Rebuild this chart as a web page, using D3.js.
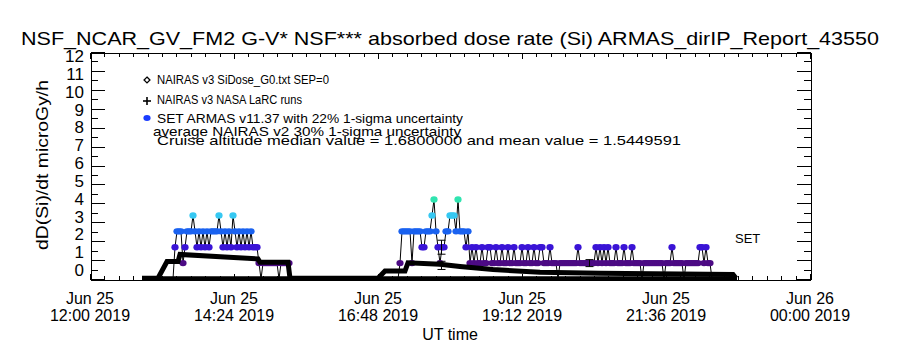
<!DOCTYPE html>
<html lang="en">
<head>
<meta charset="UTF-8">
<title>ARMAS absorbed dose rate</title>
<script src="https://d3js.org/d3.v7.min.js"></script>
<style>
body { margin: 0; background: #fff; }
text { font-family: "Liberation Sans", Arial, sans-serif; fill: #000; }
.axis path, .axis line { stroke: #000; fill: none; shape-rendering: crispEdges; }
</style>
</head>
<body>
<div class="container"></div>
<script>
// all times in minutes after Jun 25 2019 12:00 UT
var titleText = "NSF_NCAR_GV_FM2 G-V* NSF*** absorbed dose rate (Si) ARMAS_dirIP_Report_43550";
var yTicks = [0,1,2,3,4,5,6,7,8,9,10,11,12];
var xTickMin = [0, 144, 288, 432, 576, 720];
var xTickDay = ["Jun 25","Jun 25","Jun 25","Jun 25","Jun 25","Jun 26"];
var xTickTime = ["12:00 2019","14:24 2019","16:48 2019","19:12 2019","21:36 2019","00:00 2019"];
var legendLines = [
  "NAIRAS v3 SiDose_G0.txt SEP=0",
  "NAIRAS v3 NASA LaRC runs",
  "SET ARMAS v11.37 with 22% 1-sigma uncertainty",
  "average NAIRAS v2 30% 1-sigma uncertainty",
  "Cruise altitude median value = 1.6800000 and mean value = 1.5449591"
];

// NAIRAS v3 SiDose model (thick black curve)
var nairasMin  = [52, 68, 77, 88, 90, 168, 170, 198, 200, 288, 295, 315, 318, 350, 370, 403, 450, 510, 643, 646];
var nairasDose = [0.04, 0.04, 0.92, 0.92, 1.3, 1.06, 0.88, 0.88, 0.04, 0.04, 0.42, 0.42, 0.86, 0.78, 0.66, 0.5, 0.36, 0.3, 0.24, 0.04];
// NAIRAS v3 LaRC runs (flat near zero)
var larcMin  = [52, 647];
var larcDose = [0.04, 0.04];

// ARMAS dose rate, 2 minute records
var armasStep = 2;
var flight1Start = 83;
var flight1Dose = [
  0, 1.68, 2.52, 2.52, 2.52, 0.84, 1.68, 2.52, 2.52, 2.52,
  3.36, 2.52, 1.68, 2.52, 1.68, 2.52, 1.68, 2.52, 1.68, 2.52,
  2.52, 2.52, 2.52, 3.36, 2.52, 1.68, 2.52, 1.68, 2.52, 1.68,
  3.36, 2.52, 1.68, 2.52, 1.68, 2.52, 1.68, 2.52, 1.68, 2.52,
  1.68, 1.68, 1.68, 0.84, 0, 0.84, 0.84, 0.84, 0.84, 0.84,
  0.84, 0.84, 0.84, 0, 0.84, 0.84, 0.84, 0.84, 0.84, 0
];
var flight2Start = 308;
var flight2Dose = [
  0, 0.84, 2.52, 2.52, 2.52, 2.52, 2.52, 0.84, 2.52, 2.52,
  2.52, 2.52, 1.68, 1.68, 2.52, 2.52, 2.52, 3.36, 4.2, 2.52,
  1.68, 0.84, 1.68, 1.68, 2.52, 2.52, 3.36, 3.36, 3.36, 2.52,
  4.2, 2.52, 2.52, 2.52, 1.68, 2.52, 0.84, 1.68, 0.84, 1.68,
  0.84, 0.84, 1.68, 0.84, 0.84, 1.68, 1.68, 0.84, 0.84, 1.68,
  0.84, 0.84, 1.68, 0.84, 0.84, 1.68, 0.84, 0.84, 1.68, 0.84,
  0.84, 0.84, 1.68, 0.84, 0.84, 1.68, 0.84, 0.84, 1.68, 0.84,
  0.84, 1.68, 1.68, 0.84, 0.84, 0.84, 1.68, 0.84, 0.84, 0.84,
  0, 0.84, 0.84, 0.84, 0.84, 0.84, 0.84, 0.84, 0.84, 0.84,
  1.68, 0.84, 0.84, 0.84, 0.84, 0.84, 0.84, 0.84, 0.84, 1.68,
  0.84, 1.68, 0.84, 1.68, 0.84, 1.68, 0.84, 0.84, 0.84, 1.68,
  0.84, 0.84, 0.84, 1.68, 0.84, 0.84, 0.84, 1.68, 0.84, 0.84,
  0.84, 0.84, 0, 0.84, 0.84, 0.84, 0.84, 0.84, 0.84, 0.84,
  0.84, 0.84, 0.84, 0, 0.84, 0.84, 0.84, 1.68, 0.84, 0.84,
  0.84, 0.84, 0.84, 0, 0.84, 0.84, 0.84, 0.84, 0.84, 0.84,
  0.84, 1.68, 1.68, 0.84, 1.68, 0.84, 0.84, 0
];
// error bars: [minute, value, fractional 1-sigma]
var errMin  = [351, 351, 499];
var errVal  = [1.68, 0.72, 0.84];
var errFrac = [0.22, 0.30, 0.22];

var doseLevels = [0.84, 1.68, 2.52, 3.36, 4.2];
var levelColors = ["#4c0a84", "#3a14d6", "#1a62f0", "#36c8f2", "#30e4b0"];

var W = 900, H = 350;
var t0 = Date.UTC(2019, 5, 25, 12, 0);
function toDate(m) { return new Date(t0 + m * 60000); }

var x = d3.scaleUtc().domain([toDate(0), toDate(720)]).range([90, 810]);
var y = d3.scaleLinear().domain([0, 12]).range([279, 52]);
var yLab = d3.scaleLinear().domain([0, 12]).range([270, 56]);
var color = d3.scaleOrdinal().domain(doseLevels).range(levelColors);

var svg = d3.select(".container").append("svg")
  .attr("width", W).attr("height", H);

svg.append("text").attr("x", 450).attr("y", 45)
  .attr("text-anchor", "middle").style("font-size", "19px")
  .attr("textLength", 858).attr("lengthAdjust", "spacingAndGlyphs")
  .text(titleText);

// axes: major + minor ticks on all four sides
var major = xTickMin.map(toDate);
var minor = d3.range(0, 721, 14.4).map(toDate);
var halfs = d3.range(0, 12.01, 0.5);

function addAxis(gen, tr) {
  svg.append("g").attr("class", "axis").attr("transform", tr).call(gen);
}
addAxis(d3.axisBottom(x).tickValues(minor).tickSize(-4).tickSizeOuter(0).tickFormat(""), "translate(0,279.5)");
addAxis(d3.axisBottom(x).tickValues(major).tickSize(-6).tickSizeOuter(0).tickFormat(""), "translate(0,279.5)");
addAxis(d3.axisTop(x).tickValues(minor).tickSize(-4).tickSizeOuter(0).tickFormat(""), "translate(0,52.5)");
addAxis(d3.axisTop(x).tickValues(major).tickSize(-6).tickSizeOuter(0).tickFormat(""), "translate(0,52.5)");
addAxis(d3.axisLeft(y).tickValues(halfs).tickSize(-7).tickSizeOuter(0).tickFormat(""), "translate(90.5,0)");
addAxis(d3.axisLeft(y).tickValues(yTicks).tickSize(-14).tickSizeOuter(0).tickFormat(""), "translate(90.5,0)");
addAxis(d3.axisRight(y).tickValues(halfs).tickSize(-7).tickSizeOuter(0).tickFormat(""), "translate(810.5,0)");
addAxis(d3.axisRight(y).tickValues(yTicks).tickSize(-14).tickSizeOuter(0).tickFormat(""), "translate(810.5,0)");

svg.append("g").selectAll("text").data(yTicks).enter().append("text")
  .attr("x", 84).attr("y", function(d) { return yLab(d) + 6; })
  .attr("text-anchor", "end").style("font-size", "17px")
  .text(function(d) { return d; });

var xl = svg.append("g").selectAll("text").data(xTickMin).enter().append("text")
  .attr("text-anchor", "middle").style("font-size", "16px");
xl.append("tspan").attr("x", function(d) { return x(toDate(d)); }).attr("y", 304)
  .text(function(d, i) { return xTickDay[i]; });
xl.append("tspan").attr("x", function(d) { return x(toDate(d)); }).attr("y", 321)
  .text(function(d, i) { return xTickTime[i]; });

svg.append("text").attr("x", 450).attr("y", 340).attr("text-anchor", "middle")
  .style("font-size", "16px").text("UT time");
svg.append("text").attr("transform", "translate(48,165) rotate(-90)")
  .attr("text-anchor", "middle").style("font-size", "17px")
  .attr("textLength", 170).attr("lengthAdjust", "spacingAndGlyphs")
  .text("dD(Si)/dt microGy/h");

// legend
var legY = [84, 104, 123, 136, 145];
var legX = [157, 157, 157, 153, 157];
var legW = [172, 145, 306, 308, 524];
svg.append("g").selectAll("text").data(legendLines).enter().append("text")
  .attr("x", function(d, i) { return legX[i]; })
  .attr("y", function(d, i) { return legY[i]; })
  .attr("textLength", function(d, i) { return legW[i]; })
  .attr("lengthAdjust", "spacingAndGlyphs")
  .style("font-size", "13px").text(function(d) { return d; });
svg.append("path").attr("d", d3.symbol(d3.symbolDiamond2, 22)())
  .attr("transform", "translate(147,80)").attr("fill", "none").attr("stroke", "#000").attr("stroke-width", 1.3);
var plus = svg.append("g").attr("stroke", "#000").attr("stroke-width", 1.6);
plus.append("line").attr("x1", 143).attr("x2", 151).attr("y1", 101).attr("y2", 101);
plus.append("line").attr("x1", 147).attr("x2", 147).attr("y1", 97).attr("y2", 105);
svg.append("ellipse").attr("cx", 147).attr("cy", 118).attr("rx", 3.6).attr("ry", 3)
  .attr("fill", "#1a3cff");
svg.append("text").attr("x", 735).attr("y", 243).style("font-size", "13px").text("SET");

// ARMAS series
function armasPoints(start, vals) {
  return vals.map(function(v, i) { return { m: start + i * armasStep, v: v }; });
}
var flights = [armasPoints(flight1Start, flight1Dose), armasPoints(flight2Start, flight2Dose)];
var line = d3.line()
  .x(function(d) { return x(toDate(d.m)); })
  .y(function(d) { return y(d.v); });

flights.forEach(function(pts) {
  svg.append("path").attr("d", line(pts))
    .attr("fill", "none").attr("stroke", "#000").attr("stroke-width", 1);
});
flights.forEach(function(pts) {
  svg.append("g").selectAll("ellipse").data(pts.filter(function(d) { return d.v > 0; }))
    .enter().append("ellipse")
    .attr("cx", function(d) { return x(toDate(d.m)); })
    .attr("cy", function(d) { return y(d.v); })
    .attr("rx", 3.6).attr("ry", 3.2)
    .attr("fill", function(d) { return color(d.v); });
});

// error bars
var eb = svg.append("g").attr("stroke", "#000").attr("stroke-width", 1);
errMin.forEach(function(m, i) {
  var cx = Math.round(x(toDate(m))) + 0.5;
  var lo = y(errVal[i] * (1 - errFrac[i])), hi = y(errVal[i] * (1 + errFrac[i]));
  eb.append("line").attr("x1", cx).attr("x2", cx).attr("y1", lo).attr("y2", hi);
  eb.append("line").attr("x1", cx - 4).attr("x2", cx + 4).attr("y1", lo).attr("y2", lo);
  eb.append("line").attr("x1", cx - 4).attr("x2", cx + 4).attr("y1", hi).attr("y2", hi);
});

// NAIRAS curves
var mline = d3.line()
  .x(function(d) { return x(toDate(d[0])); })
  .y(function(d) { return y(d[1]); });
svg.append("path").attr("d", mline(d3.zip(larcMin, larcDose)))
  .attr("fill", "none").attr("stroke", "#000").attr("stroke-width", 4);
svg.append("path").attr("d", mline(d3.zip(nairasMin, nairasDose)))
  .attr("fill", "none").attr("stroke", "#000").attr("stroke-width", 5);
</script>
</body>
</html>
